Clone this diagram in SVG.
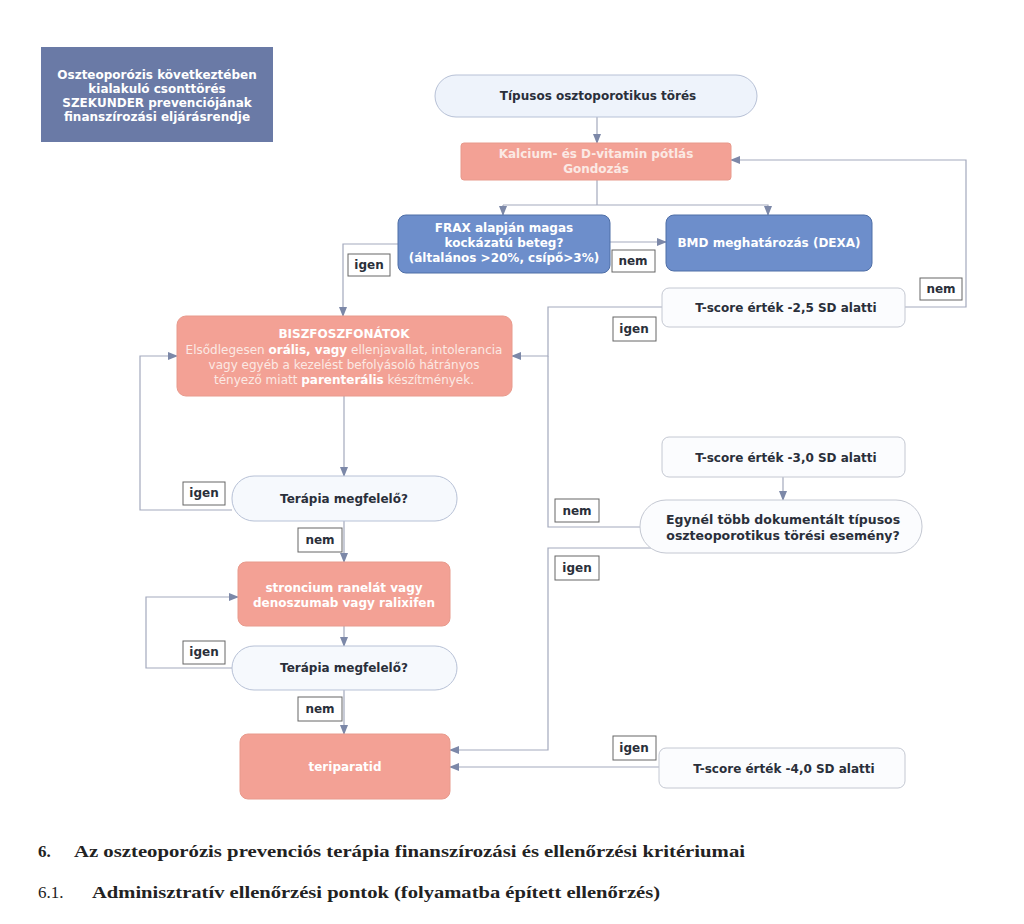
<svg xmlns="http://www.w3.org/2000/svg" width="1024" height="924" viewBox="0 0 1024 924">
<defs>
<style>
.t{font-family:"DejaVu Sans",Verdana,sans-serif;font-weight:bold;font-size:12px;text-anchor:middle}
.w{fill:#ffffff}
.wl{fill:#fbe9e4;font-weight:normal}
.d{fill:#2a2f3a}
.blue{fill:#6d8ecb;stroke:#4e6ea6;stroke-width:1}
.sal{fill:#f3a195;stroke:#e89a8c;stroke-width:1}
.lite{fill:#eef3fb;stroke:#b7c1d6;stroke-width:1}
.wht{fill:#fbfcfe;stroke:#c4c8d2;stroke-width:1}
.lab{fill:#ffffff;stroke:#666;stroke-width:1}
.c{fill:none;stroke:#a3a9bd;stroke-width:1.2}
.ca{fill:none;stroke:#a3a9bd;stroke-width:1.2;marker-end:url(#ah)}
.s{font-family:"Liberation Serif","Times New Roman",serif;font-size:17px;fill:#222}
</style>
<marker id="ah" markerWidth="10" markerHeight="8" refX="9" refY="4" orient="auto" markerUnits="userSpaceOnUse">
<path d="M0,0 L10,4 L0,8 Z" fill="#7c88a8"/>
</marker>
</defs>
<rect width="1024" height="924" fill="#ffffff"/>

<g id="title">
<rect x="41" y="47" width="232" height="95" fill="#6a7aa6"/>
<text class="t w" x="157" y="79">Oszteoporózis következtében</text>
<text class="t w" x="157" y="93">kialakuló csonttörés</text>
<text class="t w" x="157" y="107">SZEKUNDER prevenciójának</text>
<text class="t w" x="157" y="121">finanszírozási eljárásrendje</text>
</g>

<g id="connectors">
<path class="ca" d="M597,117 V143"/>
<path class="c" d="M597,180 V205"/>
<path class="ca" d="M503,205 H768 V215"/>
<path class="ca" d="M503,205 V215"/>
<path class="ca" d="M610,242 H666"/>
<path class="ca" d="M398,244 H343 V316"/>
<path class="ca" d="M905,307 H966 V160 H731"/>
<path class="ca" d="M662,307 H548 V356 H512"/>
<path class="c" d="M643,527 H548 V356"/>
<path class="ca" d="M344,396 V476"/>
<path class="ca" d="M232,510 H140 V356 H177"/>
<path class="ca" d="M344,521 V562"/>
<path class="ca" d="M344,626 V646"/>
<path class="ca" d="M232,668 H146 V597 H238"/>
<path class="ca" d="M344,690 V734"/>
<path class="ca" d="M783,477 V500"/>
<path class="ca" d="M655,548 H548 V750 H450"/>
<path class="ca" d="M659,767 H450"/>
</g>

<g id="n-tipusos">
<rect class="lite" x="435" y="75" width="322" height="42" rx="21"/>
<text class="t d" x="598" y="100">Típusos osztoporotikus törés</text>
</g>

<g id="n-kalcium">
<rect class="sal" x="461" y="143" width="270" height="37" rx="3"/>
<text class="t wl" x="596" y="158" style="font-weight:bold">Kalcium- és D-vitamin pótlás</text>
<text class="t wl" x="596" y="173" style="font-weight:bold">Gondozás</text>
</g>

<g id="n-frax">
<rect class="blue" x="398" y="215" width="212" height="58" rx="8"/>
<text class="t w" x="504" y="232">FRAX alapján magas</text>
<text class="t w" x="504" y="247">kockázatú beteg?</text>
<text class="t w" x="504" y="262">(általános &gt;20%, csípő&gt;3%)</text>
</g>

<g id="n-bmd">
<rect class="blue" x="666" y="215" width="206" height="56" rx="8"/>
<text class="t w" x="769" y="247">BMD meghatározás (DEXA)</text>
</g>

<g id="n-tscore25">
<rect class="wht" x="662" y="288" width="243" height="39" rx="7"/>
<text class="t d" x="786" y="312">T-score érték -2,5 SD alatti</text>
</g>

<g id="n-bisz">
<rect class="sal" x="177" y="316" width="335" height="80" rx="9"/>
<text class="t w" x="344" y="338">BISZFOSZFONÁTOK</text>
<text class="t wl" x="344" y="354">Elsődlegesen <tspan style="font-weight:bold;fill:#fff">orális, vagy</tspan> ellenjavallat, intolerancia</text>
<text class="t wl" x="344" y="369">vagy egyéb a kezelést befolyásoló hátrányos</text>
<text class="t wl" x="344" y="384">tényező miatt <tspan style="font-weight:bold;fill:#fff">parenterális</tspan> készítmények.</text>
</g>

<g id="n-terapia1">
<rect class="lite" x="232" y="476" width="225" height="45" rx="22" style="fill:#f6f9fd"/>
<text class="t d" x="344" y="503">Terápia megfelelő?</text>
</g>

<g id="n-stroncium">
<rect class="sal" x="238" y="562" width="212" height="64" rx="8"/>
<text class="t w" x="344" y="592">stroncium ranelát vagy</text>
<text class="t w" x="344" y="607">denoszumab vagy ralixifen</text>
</g>

<g id="n-terapia2">
<rect class="lite" x="232" y="646" width="225" height="44" rx="22" style="fill:#f6f9fd"/>
<text class="t d" x="344" y="672">Terápia megfelelő?</text>
</g>

<g id="n-teriparatid">
<rect class="sal" x="240" y="734" width="210" height="65" rx="8"/>
<text class="t w" x="345" y="771">teriparatid</text>
</g>

<g id="n-tscore30">
<rect class="wht" x="662" y="437" width="243" height="40" rx="7"/>
<text class="t d" x="786" y="462">T-score érték -3,0 SD alatti</text>
</g>

<g id="n-egynel">
<rect class="wht" x="640" y="500" width="282" height="53" rx="26"/>
<text class="t d" x="783" y="524" style="font-size:12.5px">Egynél több dokumentált típusos</text>
<text class="t d" x="783" y="540" style="font-size:12.5px">oszteoporotikus törési esemény?</text>
</g>

<g id="n-tscore40">
<rect class="wht" x="659" y="748" width="246" height="40" rx="7"/>
<text class="t d" x="784" y="773">T-score érték -4,0 SD alatti</text>
</g>

<g id="labels">
<rect class="lab" x="348" y="254" width="42" height="22"/><text class="t d" x="369" y="269">igen</text>
<rect class="lab" x="612" y="250" width="43" height="22"/><text class="t d" x="633" y="265">nem</text>
<rect class="lab" x="920" y="278" width="42" height="22"/><text class="t d" x="941" y="293">nem</text>
<rect class="lab" x="613" y="317" width="43" height="24"/><text class="t d" x="634" y="333">igen</text>
<rect class="lab" x="183" y="482" width="42" height="23"/><text class="t d" x="204" y="497">igen</text>
<rect class="lab" x="298" y="528" width="44" height="24"/><text class="t d" x="320" y="544">nem</text>
<rect class="lab" x="555" y="499" width="44" height="23"/><text class="t d" x="577" y="515">nem</text>
<rect class="lab" x="555" y="556" width="44" height="24"/><text class="t d" x="577" y="572">igen</text>
<rect class="lab" x="183" y="641" width="42" height="23"/><text class="t d" x="204" y="656">igen</text>
<rect class="lab" x="298" y="697" width="44" height="24"/><text class="t d" x="320" y="713">nem</text>
<rect class="lab" x="613" y="736" width="43" height="24"/><text class="t d" x="634" y="752">igen</text>
</g>

<g id="footer">
<text class="s" x="38" y="857" font-weight="bold">6.</text>
<text class="s" x="74" y="857" font-weight="bold" textLength="671" lengthAdjust="spacingAndGlyphs">Az oszteoporózis prevenciós terápia finanszírozási és ellenőrzési kritériumai</text>
<text class="s" x="38" y="898">6.1.</text>
<text class="s" x="92" y="898" font-weight="bold" textLength="568" lengthAdjust="spacingAndGlyphs">Adminisztratív ellenőrzési pontok (folyamatba épített ellenőrzés)</text>
</g>
</svg>
